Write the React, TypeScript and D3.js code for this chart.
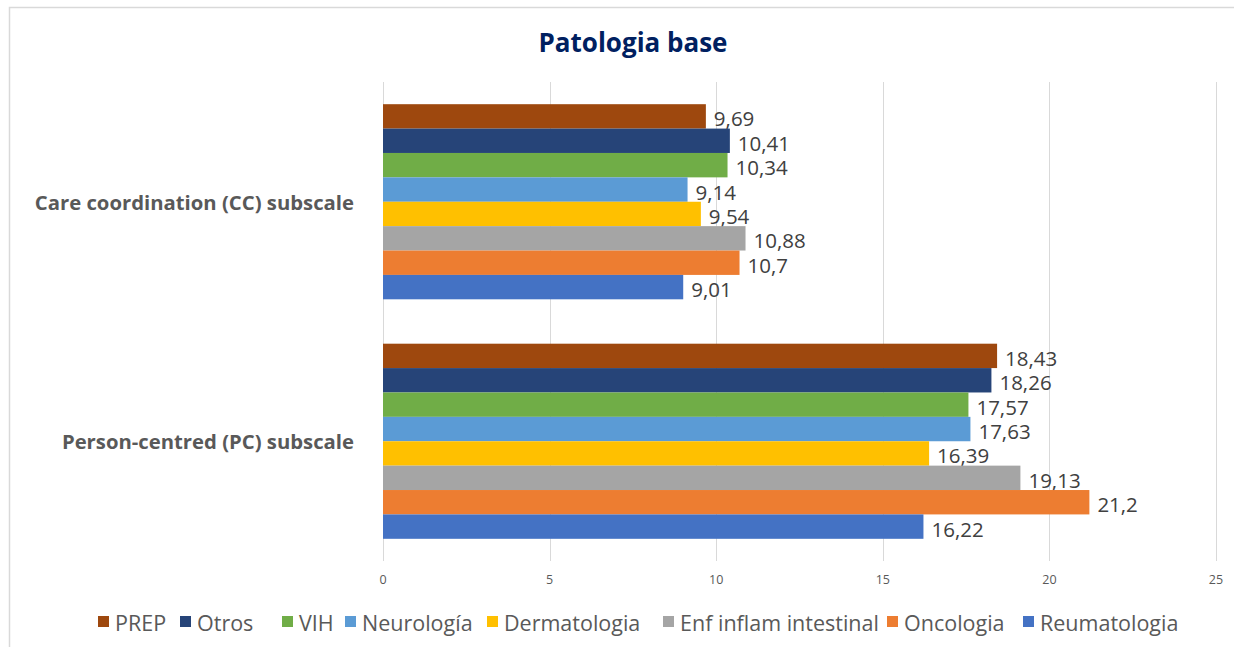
import React from 'react';
import * as d3 from 'd3';

const width = 1234;
const height = 647;
const margin = { top: 82, right: 18, bottom: 86, left: 383 };

const categories = ['Care coordination (CC) subscale', 'Person-centred (PC) subscale'];
const seriesNames = ['PREP', 'Otros', 'VIH', 'Neurología', 'Dermatologia', 'Enf inflam intestinal', 'Oncologia', 'Reumatologia'];
const seriesColors = ['#9E480E', '#264478', '#70AD47', '#5B9BD5', '#FFC000', '#A5A5A5', '#ED7D31', '#4472C4'];
const ccValues = [9.69, 10.41, 10.34, 9.14, 9.54, 10.88, 10.7, 9.01];
const pcValues = [18.43, 18.26, 17.57, 17.63, 16.39, 19.13, 21.2, 16.22];
const ticks = [0, 5, 10, 15, 20, 25];
// legend item left edges (layout only)
const legendX = [98, 180, 282, 345, 487, 663, 887, 1023];

const valuesByCategory = [ccValues, pcValues];
const font = "'Open Sans', 'Noto Sans', sans-serif";
const fmt = (v: number) => String(v).replace('.', ',');

export default function App() {
  const x = d3.scaleLinear().domain([0, 25]).range([margin.left, 1216]);
  const y = d3.scaleBand().domain(categories).range([margin.top, 561]).padding(0);
  const inner = d3
    .scaleBand()
    .domain(seriesNames)
    .range([0, y.bandwidth()])
    .paddingInner(0)
    .paddingOuter(0.91);

  return (
    <svg
      width={width}
      height={height}
      style={{ position: 'absolute', left: 0, top: 0, background: '#fff' }}
      fontFamily={font}
    >
      <rect x={9.5} y={7.5} width={1300} height={700} fill="#fff" stroke="#D9D9D9" strokeWidth={1.5} />
      <text x={633} y={52} textAnchor="middle" fontSize={26} fontWeight="bold" fill="#002060">
        Patologia base
      </text>
      {ticks.map(t => (
        <g key={t}>
          <line x1={Math.round(x(t)) + 0.5} x2={Math.round(x(t)) + 0.5} y1={82} y2={561} stroke="#D9D9D9" strokeWidth={1} />
          <text x={x(t)} y={584} textAnchor="middle" fontSize={12.5} fill="#595959">
            {t}
          </text>
        </g>
      ))}
      {categories.map((c, ci) => (
        <g key={c} transform={`translate(0, ${y(c)})`}>
          <text
            x={354}
            y={y.bandwidth() / 2}
            textAnchor="end"
            dominantBaseline="central"
            fontSize={20.3}
            fontWeight="bold"
            fill="#595959"
          >
            {c}
          </text>
          {seriesNames.map((s, si) => {
            const v = valuesByCategory[ci][si];
            const yy = inner(s) as number;
            return (
              <g key={s}>
                <rect x={x(0)} y={yy} width={x(v) - x(0)} height={inner.bandwidth()} fill={seriesColors[si]} />
                <text
                  x={x(v) + 8}
                  y={yy + inner.bandwidth() / 2 + 2}
                  dominantBaseline="central"
                  fontSize={20.5}
                  fill="#404040"
                >
                  {fmt(v)}
                </text>
              </g>
            );
          })}
        </g>
      ))}
      {seriesNames.map((s, si) => (
        <g key={s} transform={`translate(${legendX[si]}, 621)`}>
          <rect x={0} y={-5} width={11} height={11} fill={seriesColors[si]} />
          <text x={17} y={1} dominantBaseline="central" fontSize={21.5} fill="#595959">
            {s}
          </text>
        </g>
      ))}
    </svg>
  );
}
